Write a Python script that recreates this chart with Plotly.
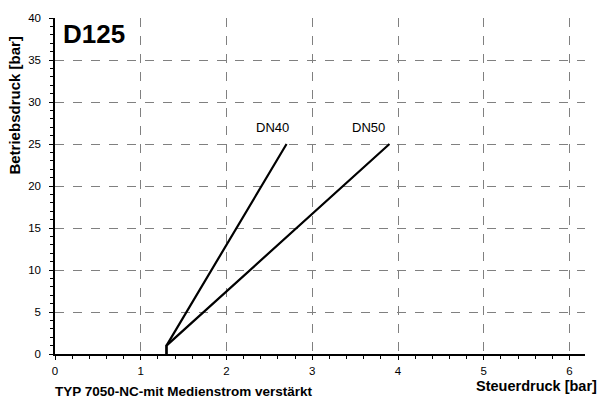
import plotly.graph_objects as go

# Characteristic curves: operating pressure vs. control pressure
dn40_x = [1.3, 1.3, 2.7]
dn40_y = [0, 1, 25]
dn50_x = [1.3, 1.3, 3.9]
dn50_y = [0, 1, 25]

series_labels = ["DN40", "DN50"]
label_x = [2.54, 3.66]
label_y = [27.0, 27.0]

x_ticks = [0, 1, 2, 3, 4, 5, 6]
y_ticks = [0, 5, 10, 15, 20, 25, 30, 35, 40]

FONT = "Liberation Sans, Arial, sans-serif"

fig = go.Figure()
for xs, ys in [(dn40_x, dn40_y), (dn50_x, dn50_y)]:
    fig.add_trace(go.Scatter(x=xs, y=ys, mode="lines",
                             line=dict(color="black", width=2.2),
                             showlegend=False, hoverinfo="skip"))

for name, lx, ly in zip(series_labels, label_x, label_y):
    fig.add_annotation(x=lx, y=ly, text=name, showarrow=False,
                       font=dict(family=FONT, size=13, color="black"))

fig.add_annotation(xref="paper", yref="paper", x=0.011, y=0.952,
                   xanchor="left", yanchor="middle", text="<b>D125</b>",
                   showarrow=False,
                   font=dict(family=FONT, size=26, color="black"))

fig.add_annotation(xref="paper", yref="paper", x=-0.077, y=0.74,
                   xanchor="center", yanchor="middle", textangle=-90,
                   text="<b>Betriebsdruck [bar]</b>",
                   showarrow=False, font=dict(family=FONT, size=15, color="black"))

fig.add_annotation(xref="paper", yref="paper", x=-0.004, y=-0.112,
                   xanchor="left", yanchor="middle",
                   text="<b>TYP 7050-NC-mit Medienstrom verstärkt</b>",
                   showarrow=False, font=dict(family=FONT, size=13.5, color="black"))

fig.add_annotation(xref="paper", yref="paper", x=1.026, y=-0.096,
                   xanchor="right", yanchor="middle",
                   text="<b>Steuerdruck [bar]</b>",
                   showarrow=False, font=dict(family=FONT, size=14.5, color="black"))

grid = dict(showgrid=True, gridcolor="#808080", griddash="dash", gridwidth=1)

fig.update_xaxes(range=[0, 6.18], tickvals=x_ticks, ticks="outside", ticklen=4,
                 tickcolor="black", showline=True, linecolor="black", linewidth=1.5,
                 zeroline=False, ticklabelstandoff=1,
                 tickfont=dict(family=FONT, size=11.5, color="black"),
                 minor=dict(dtick=0.2, ticks="outside", ticklen=3, tickcolor="black",
                            showgrid=False),
                 **grid)
fig.update_yaxes(range=[0, 40], tickvals=y_ticks, ticks="outside", ticklen=4,
                 tickcolor="black", showline=True, linecolor="black", linewidth=1.5,
                 zeroline=False, ticklabelstandoff=6,
                 tickfont=dict(family=FONT, size=11.5, color="black"),
                 minor=dict(dtick=1, ticks="outside", ticklen=3, tickcolor="black",
                            showgrid=False),
                 **grid)

fig.update_layout(width=603, height=401, plot_bgcolor="white", paper_bgcolor="white",
                  margin=dict(l=55, r=18, t=15, b=47),
                  font=dict(family=FONT))

fig.write_html("out.html")
